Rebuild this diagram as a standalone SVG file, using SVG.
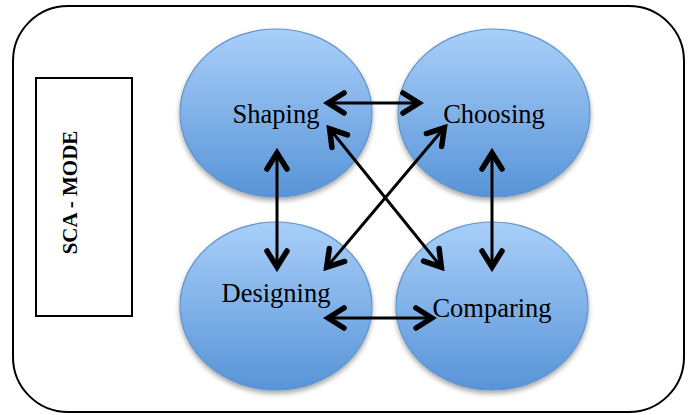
<svg xmlns="http://www.w3.org/2000/svg" width="689" height="415" viewBox="0 0 689 415">
<style>
.node ellipse{fill:url(#g);stroke:#5f93cc;stroke-width:1.2;filter:url(#sh)}
.lbl{font-family:"Liberation Serif","Times New Roman",serif;font-size:26.5px;fill:#000;text-anchor:middle}
.conn line{stroke:#000;stroke-width:3;marker-start:url(#ah);marker-end:url(#ah)}
</style>
<defs>
<linearGradient id="g" x1="0" y1="0" x2="0" y2="1">
<stop offset="0" stop-color="#a9cff9"/>
<stop offset="1" stop-color="#5894d8"/>
</linearGradient>
<filter id="sh" x="-10%" y="-10%" width="125%" height="130%">
<feDropShadow dx="0" dy="3" stdDeviation="2.5" flood-color="#000" flood-opacity="0.35"/>
</filter>
<marker id="ah" markerUnits="userSpaceOnUse" orient="auto-start-reverse" viewBox="-26 -16 30 32" markerWidth="30" markerHeight="32" refX="0" refY="0">
<path d="M-17,-10 L-1,0 L-17,10" fill="none" stroke="#000" stroke-width="5.5" stroke-linecap="round" stroke-linejoin="miter"/>
</marker>
</defs>
<rect id="frame" x="13" y="6" width="671" height="406" rx="55" ry="55" fill="#fff" stroke="#000" stroke-width="2"/>
<g id="mode">
<rect x="36" y="78" width="96" height="238" fill="#fff" stroke="#000" stroke-width="2"/>
<text transform="translate(77,192.5) rotate(-90)" text-anchor="middle" font-family="Liberation Serif,'Times New Roman',serif" font-weight="bold" font-size="21">SCA - MODE</text>
</g>
<g id="shaping" class="node"><ellipse cx="276" cy="113" rx="96" ry="84"/><text class="lbl" x="276" y="123">Shaping</text></g>
<g id="choosing" class="node"><ellipse cx="494" cy="113" rx="96" ry="84"/><text class="lbl" x="494" y="123">Choosing</text></g>
<g id="designing" class="node"><ellipse cx="276" cy="306" rx="96" ry="84"/><text class="lbl" x="276" y="302">Designing</text></g>
<g id="comparing" class="node"><ellipse cx="492" cy="306" rx="96" ry="84"/><text class="lbl" x="492" y="317">Comparing</text></g>
<g id="connectors" class="conn">
<line x1="327" y1="103" x2="420" y2="103"/>
<line x1="277" y1="152" x2="277" y2="268"/>
<line x1="329" y1="128" x2="442" y2="268"/>
<line x1="445" y1="127" x2="326" y2="268"/>
<line x1="492" y1="152" x2="492" y2="268"/>
<line x1="327" y1="318" x2="433" y2="318"/>
</g>
</svg>
